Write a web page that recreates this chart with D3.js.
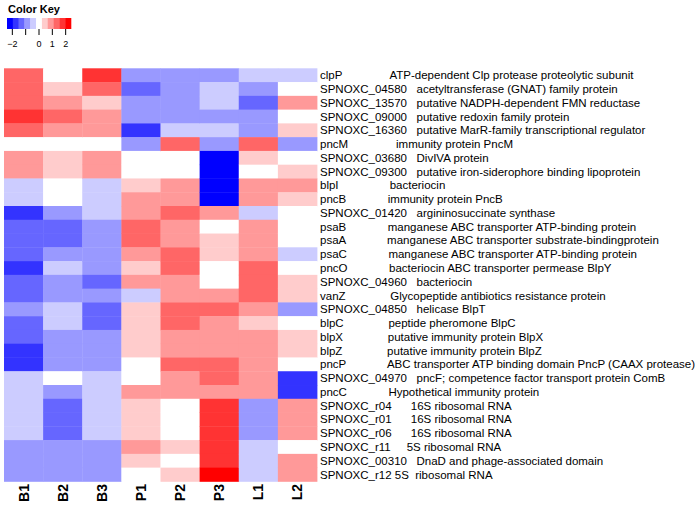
<!DOCTYPE html>
<html>
<head>
<meta charset="utf-8">
<script src="https://cdn.jsdelivr.net/npm/d3@7"></script>
<style>
  html, body { margin: 0; padding: 0; background: #fff; }
  svg { display: block; font-family: "Liberation Sans", Arial, Helvetica, sans-serif; }
</style>
</head>
<body>
<svg id="chart" width="700" height="506"></svg>
<script>
// ---- data ----
const columns = ["B1", "B2", "B3", "P1", "P2", "P3", "L1", "L2"];

const rowLabels = [
  "clpP               ATP-dependent Clp protease proteolytic subunit",
  "SPNOXC_04580   acetyltransferase (GNAT) family protein",
  "SPNOXC_13570   putative NADPH-dependent FMN reductase",
  "SPNOXC_09000   putative redoxin family protein",
  "SPNOXC_16360   putative MarR-family transcriptional regulator",
  "pncM               immunity protein PncM",
  "SPNOXC_03680   DivIVA protein",
  "SPNOXC_09300   putative iron-siderophore binding lipoprotein",
  "blpI                bacteriocin",
  "pncB             immunity protein PncB",
  "SPNOXC_01420   argininosuccinate synthase",
  "psaB             manganese ABC transporter ATP-binding protein",
  "psaA             manganese ABC transporter substrate-bindingprotein",
  "psaC             manganese ABC transporter ATP-binding protein",
  "pncO             bacteriocin ABC transporter permease BlpY",
  "SPNOXC_04960   bacteriocin",
  "vanZ              Glycopeptide antibiotics resistance protein",
  "SPNOXC_04850   helicase BlpT",
  "blpC              peptide pheromone BlpC",
  "blpX              putative immunity protein BlpX",
  "blpZ              putative immunity protein BlpZ",
  "pncP             ABC transporter ATP binding domain PncP (CAAX protease)",
  "SPNOXC_04970   pncF; competence factor transport protein ComB",
  "pncC             Hypothetical immunity protein",
  "SPNOXC_r04      16S ribosomal RNA",
  "SPNOXC_r01      16S ribosomal RNA",
  "SPNOXC_r06      16S ribosomal RNA",
  "SPNOXC_r11     5S ribosomal RNA",
  "SPNOXC_00310   DnaD and phage-associated domain",
  "SPNOXC_r12 5S  ribosomal RNA"
];

// values per column, one entry per row (top to bottom)
const valB1 = [1.5, 1.5, 1.5, 2, 1.5, 0, 1, 1, -0.5, -0.5, -2, -1.5, -1.5, -1.5, -2, -1.5, -1.5, -1, -1.5, -1.5, -2, -2, -0.5, -0.5, -0.5, -0.5, -0.5, -1, -1, -1];
const valB2 = [0, 0.5, 1, 1.5, 1, 0, 0.5, 0.5, 0, 0, -1, -1.5, -1.5, -1, -0.5, -1, -1, -0.5, -0.5, -1, -1, -1, 0, -1, -1.5, -1.5, -1.5, -1, -1, -1];
const valB3 = [2, 1.5, 0.5, 1, 1, 0, 1, 1, -0.5, -0.5, -0.5, -1, -1, -1, -1, -1.5, -1, -1.5, -1.5, -1, -1, -1, -0.5, -0.5, -0.5, -0.5, -0.5, -1, -1, -1];
const valP1 = [-1, -1.5, -1, -1, -2, -1, 0, 0, 0.5, 1, 1, 1.5, 1.5, 1, 0.5, 1, -0.5, 0.5, 0.5, 0.5, 0.5, 0, 0, 1, 0.5, 0.5, 0.5, 1, 0.5, 0];
const valP2 = [-1, -1, -1, -1, -0.5, 1.5, 0, 0, 1, 1, 1.5, 1, 1, 1.5, 1.5, 1, 1, 1.5, 1.5, 1, 1, 1.5, 1, 1, 0, 0, 0, 0.5, 0, 0.5];
const valP3 = [-1, -0.5, -0.5, -1, -0.5, -1, -2.5, -2.5, -2.5, -2.5, 1, 0, 0.5, 0.5, 0, 0, 1, 1.5, 1, 1, 1, 1.5, 1.5, 1, 2, 2, 2, 2, 2, 2.5];
const valL1 = [-0.5, -1, -1.5, -1, -1, 1.5, 0.5, 0, 1, 1, -0.5, 1, 1, 1, 1.5, 1.5, 1.5, 1, 0.5, 1, 1, 1, 1, 1, -1, -1, -1, -0.5, -0.5, -0.5];
const valL2 = [-0.5, 0, 1, 0, 0.5, -1, 0, 0.5, 1, 0.5, 0, 0, 0, -0.5, 0, 0.5, 0.5, -1, 0, 0.5, 0.5, 0, -2, -2, 1, 1, 1, 0, 1, 1];

const keyLevels = [-2.5, -2, -1.5, -1, -0.5, 0, 0.5, 1, 1.5, 2, 2.5];
const keyTicks = [-2, -1, 0, 1, 2];
const keyTickLabels = [-2, 0, 1, 2];

// ---- build ----
const valuesByCol = [valB1, valB2, valB3, valP1, valP2, valP3, valL1, valL2];
const cells = [];
columns.forEach((c, ci) => {
  valuesByCol[ci].forEach((v, ri) => cells.push({col: c, row: ri, value: v}));
});

const svg = d3.select("#chart");

const x = d3.scaleBand().domain(columns).range([4, 317]).padding(0);
const y = d3.scaleBand().domain(d3.range(rowLabels.length)).range([68.3, 481.4]).padding(0);
const color = d3.scaleLinear().domain([-2.5, 0, 2.5]).range(["#0000FF", "#FFFFFF", "#FF0000"]).interpolate(d3.interpolateRgb).clamp(true);

svg.append("g").selectAll("rect").data(cells).join("rect")
  .attr("x", d => x(d.col))
  .attr("y", d => y(d.row))
  .attr("width", x.bandwidth() + 0.4)
  .attr("height", y.bandwidth() + 0.4)
  .attr("fill", d => color(d.value));

// row labels
svg.append("g").selectAll("text").data(rowLabels).join("text")
  .attr("x", 320)
  .attr("y", (d, i) => y(i) + y.bandwidth() / 2)
  .attr("dy", "0.35em")
  .attr("font-size", 11.5)
  .attr("fill", "#000")
  .style("white-space", "pre")
  .attr("xml:space", "preserve")
  .text(d => d);

// column labels
svg.append("g").selectAll("text").data(columns).join("text")
  .attr("transform", d => `translate(${x(d) + x.bandwidth() / 2 + 5},484) rotate(-90)`)
  .attr("text-anchor", "end")
  .attr("font-size", 14)
  .attr("font-weight", "bold")
  .attr("fill", "#000")
  .text(d => d);

// color key
const kx = d3.scaleLinear().domain([-2.4, 2.4]).range([7, 71]);
const kbin = (kx.range()[1] - kx.range()[0]) / keyLevels.length;
const key = svg.append("g");
key.selectAll("rect").data(keyLevels).join("rect")
  .attr("x", (d, i) => kx.range()[0] + i * kbin)
  .attr("y", 18)
  .attr("width", kbin + 0.3)
  .attr("height", 11)
  .attr("fill", d => color(d));
key.selectAll("line").data(keyTicks).join("line")
  .attr("x1", d => kx(d)).attr("x2", d => kx(d))
  .attr("y1", 29).attr("y2", 35)
  .attr("stroke", "#000").attr("stroke-width", 1);
key.selectAll("text.tl").data(keyTickLabels).join("text")
  .attr("class", "tl")
  .attr("x", d => kx(d))
  .attr("y", 47)
  .attr("text-anchor", "middle")
  .attr("font-size", 9)
  .attr("fill", "#000")
  .text(d => d < 0 ? "\u2212" + Math.abs(d) : String(d));
key.append("text")
  .attr("x", 8).attr("y", 13)
  .attr("font-size", 11)
  .attr("font-weight", "bold")
  .attr("fill", "#000")
  .text("Color Key");
</script>
</body>
</html>
